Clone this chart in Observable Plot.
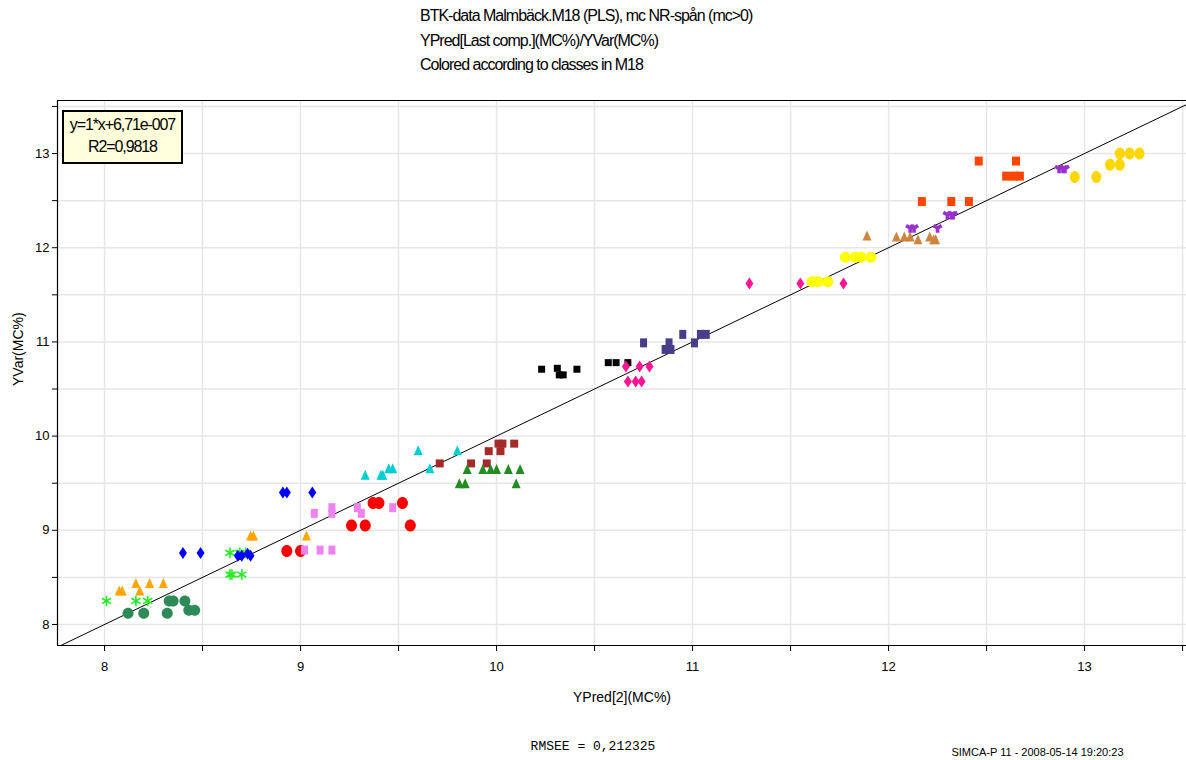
<!DOCTYPE html>
<html>
<head>
<meta charset="utf-8">
<script src="https://cdn.jsdelivr.net/npm/d3@7"></script>
<script src="https://cdn.jsdelivr.net/npm/@observablehq/plot@0.6"></script>
<style>
  html, body { margin: 0; padding: 0; background: #fff; }
  #wrap { position: relative; width: 1186px; height: 760px; overflow: hidden; font-family: "Liberation Sans", Arial, sans-serif; }
  #wrap svg { position: absolute; left: 0; top: 0; }
  .t { position: absolute; white-space: nowrap; color: #000; }
  .title { left: 420px; font-size: 16px; letter-spacing: -1.0px; }
  #box { position: absolute; left: 62px; top: 110px; width: 117px; height: 48px; background: #ffffdc; border: 2px solid #000; text-align: center; font-size: 16px; letter-spacing: -1.1px; line-height: 22px; padding-top: 2px; box-sizing: content-box; }
</style>
</head>
<body>
<div id="wrap">
  <div class="t title" style="top:7px">BTK-data Malmbäck.M18 (PLS), mc NR-spån (mc&gt;0)</div>
  <div class="t title" style="top:32px">YPred[Last comp.](MC%)/YVar(MC%)</div>
  <div class="t title" style="top:56px">Colored according to classes in M18</div>
</div>
<script>
// ---- data ----
const xTicks = [8, 8.5, 9, 9.5, 10, 10.5, 11, 11.5, 12, 12.5, 13, 13.5];
const yTicks = [8, 8.5, 9, 9.5, 10, 10.5, 11, 11.5, 12, 12.5, 13, 13.5];

const c01x = [8.12, 8.20, 8.32, 8.33, 8.35, 8.41, 8.43, 8.46];
const c01y = [8.12, 8.12, 8.12, 8.25, 8.25, 8.25, 8.15, 8.15];
const c02x = [8.075, 8.09, 8.16, 8.18, 8.23, 8.30, 8.745, 8.76, 9.03];
const c02y = [8.36, 8.36, 8.44, 8.36, 8.44, 8.44, 8.945, 8.945, 8.945];
const c03x = [8.01, 8.16, 8.22, 8.64, 8.69, 8.72, 8.64, 8.65, 8.70];
const c03y = [8.25, 8.25, 8.25, 8.76, 8.76, 8.76, 8.53, 8.53, 8.53];
const c04x = [8.40, 8.49, 8.68, 8.70, 8.73, 8.745, 8.91, 8.93, 9.06];
const c04y = [8.76, 8.76, 8.73, 8.73, 8.75, 8.73, 9.40, 9.40, 9.40];
const c05x = [8.93, 9.00, 9.26, 9.33, 9.56, 9.37, 9.40, 9.52];
const c05y = [8.78, 8.78, 9.05, 9.05, 9.05, 9.29, 9.29, 9.29];
const c06x = [9.02, 9.10, 9.16, 9.07, 9.16, 9.16, 9.29, 9.31, 9.47];
const c06y = [8.79, 8.79, 8.79, 9.18, 9.18, 9.24, 9.24, 9.18, 9.24];
const c07x = [9.33, 9.41, 9.42, 9.45, 9.47, 9.60, 9.66, 9.80];
const c07y = [9.59, 9.59, 9.59, 9.66, 9.66, 9.85, 9.66, 9.85];
const c08x = [9.71, 9.87, 9.95, 9.96, 10.02, 10.01, 10.03, 10.09];
const c08y = [9.71, 9.71, 9.71, 9.84, 9.84, 9.92, 9.92, 9.92];
const c09x = [9.81, 9.84, 9.85, 9.93, 9.97, 10.00, 10.06, 10.12, 10.10];
const c09y = [9.50, 9.50, 9.65, 9.65, 9.65, 9.65, 9.65, 9.65, 9.50];
const c10x = [10.23, 10.31, 10.32, 10.34, 10.41, 10.57, 10.61, 10.67];
const c10y = [10.71, 10.72, 10.65, 10.65, 10.71, 10.78, 10.78, 10.78];
const c11x = [10.66, 10.73, 10.78, 10.67, 10.71, 10.74, 11.29, 11.55, 11.77];
const c11y = [10.74, 10.74, 10.74, 10.58, 10.58, 10.58, 11.62, 11.62, 11.62];
const c12x = [10.75, 10.88, 10.86, 10.89, 10.95, 11.01, 11.04, 11.07];
const c12y = [10.99, 10.99, 10.92, 10.92, 11.08, 10.99, 11.08, 11.08];
const c13x = [11.61, 11.64, 11.69, 11.78, 11.83, 11.86, 11.91];
const c13y = [11.64, 11.64, 11.64, 11.90, 11.90, 11.90, 11.90];
const c14x = [11.89, 12.04, 12.08, 12.11, 12.15, 12.21, 12.23, 12.24];
const c14y = [12.13, 12.12, 12.12, 12.12, 12.09, 12.12, 12.09, 12.09];
const c15x = [12.11, 12.13, 12.25, 12.30, 12.32, 12.33, 12.87, 12.89, 12.90];
const c15y = [12.21, 12.21, 12.21, 12.35, 12.35, 12.35, 12.84, 12.84, 12.84];
const c16x = [12.17, 12.32, 12.41, 12.46, 12.60, 12.64, 12.67, 12.65];
const c16y = [12.49, 12.49, 12.49, 12.92, 12.76, 12.76, 12.76, 12.92];
const c17x = [12.95, 13.06, 13.13, 13.18, 13.18, 13.23, 13.28];
const c17y = [12.75, 12.75, 12.88, 12.88, 13.00, 13.00, 13.00];

const fitLine = [7.76, 13.52];

// ---- styling ----
const rectSym = (w, h) => ({draw(ctx) { ctx.rect(-w / 2, -h / 2, w, h); }});
const diamondSym = (w, h) => ({draw(ctx) { ctx.moveTo(0, -h / 2); ctx.lineTo(w / 2, 0); ctx.lineTo(0, h / 2); ctx.lineTo(-w / 2, 0); ctx.closePath(); }});
const triSym = (w, h) => ({draw(ctx) { ctx.moveTo(0, -h / 2); ctx.lineTo(w / 2, h / 2); ctx.lineTo(-w / 2, h / 2); ctx.closePath(); }});
const ellSym = (rx, ry) => ({draw(ctx) {
  const k = 0.5523, ox = rx * k, oy = ry * k;
  ctx.moveTo(rx, 0);
  ctx.bezierCurveTo(rx, oy, ox, ry, 0, ry);
  ctx.bezierCurveTo(-ox, ry, -rx, oy, -rx, 0);
  ctx.bezierCurveTo(-rx, -oy, -ox, -ry, 0, -ry);
  ctx.bezierCurveTo(ox, -ry, rx, -oy, rx, 0);
  ctx.closePath();
}});

const groups = [
  [c01x, c01y, "#2e8b57", ellSym(5.5, 5.5)],
  [c02x, c02y, "#ffa500", triSym(9, 10)],
  [c03x, c03y, "#22ee22", "asterisk"],
  [c04x, c04y, "#0000ff", diamondSym(8, 12)],
  [c05x, c05y, "#ff0000", ellSym(5.5, 6)],
  [c06x, c06y, "#ee82ee", rectSym(7, 9)],
  [c07x, c07y, "#00ced1", triSym(9, 10)],
  [c08x, c08y, "#a52a2a", rectSym(8, 8)],
  [c09x, c09y, "#228b22", triSym(9, 10)],
  [c10x, c10y, "#000000", rectSym(7, 7)],
  [c11x, c11y, "#ff1493", diamondSym(8, 12)],
  [c12x, c12y, "#483d8b", rectSym(7, 9)],
  [c13x, c13y, "#ffff00", ellSym(5.5, 5.5)],
  [c14x, c14y, "#cd853f", triSym(9, 10)],
  [c15x, c15y, "#9932cc", "wye"],
  [c16x, c16y, "#ff4500", rectSym(8, 9)],
  [c17x, c17y, "#ffd700", ellSym(5, 6)]
];

const xDom = [7.76, 13.52], yDom = [7.777, 13.563];

const dotMarks = groups.map(([xs, ys, color, sym]) => {
  const data = xs.map((x, i) => ({x, y: ys[i]}));
  if (sym === "asterisk") return Plot.dot(data, {x: "x", y: "y", symbol: "asterisk", r: 5, stroke: color, strokeWidth: 1.6, fill: "none"});
  if (sym === "wye") return Plot.dot(data, {x: "x", y: "y", symbol: "wye", r: 3.8, fill: color, stroke: "none"});
  return Plot.dot(data, {x: "x", y: "y", symbol: sym, r: 5, fill: color, stroke: "none"});
});

const fmt = d => Number.isInteger(d) ? String(d) : "";

const chart = Plot.plot({
  width: 1186,
  height: 760,
  marginTop: 100,
  marginLeft: 57,
  marginRight: 0,
  marginBottom: 115,
  x: {domain: xDom, label: null},
  y: {domain: yDom, label: null},
  style: {fontFamily: "Liberation Sans, Arial, sans-serif", fontSize: "13px", background: "transparent", color: "#000"},
  marks: [
    Plot.gridX(xTicks, {stroke: "#e6e6e6", strokeOpacity: 1, strokeWidth: 1.5}),
    Plot.gridY(yTicks, {stroke: "#e6e6e6", strokeOpacity: 1, strokeWidth: 1.5}),
    Plot.axisX(xTicks, {tickSize: 6, tickPadding: 10, tickFormat: fmt, label: null, fontSize: 13}),
    Plot.axisY(yTicks, {tickSize: 5, tickPadding: 3, tickFormat: fmt, label: null, fontSize: 13}),
    Plot.ruleX([xDom[0]], {stroke: "#000", strokeWidth: 1.2}),
    Plot.ruleY([yDom[0]], {stroke: "#000", strokeWidth: 1.2}),
    Plot.ruleY([yDom[1]], {stroke: "#000", strokeWidth: 1.2}),
    Plot.line(fitLine.map(v => ({x: v, y: v})), {x: "x", y: "y", stroke: "#000", strokeWidth: 1, clip: true}),
    ...dotMarks,
    Plot.text(["YPred[2](MC%)"], {frameAnchor: "bottom", dy: 56, fontSize: 14, fontFamily: "Liberation Sans, Arial", letterSpacing: "-0.9px"}),
    Plot.text(["YVar(MC%)"], {frameAnchor: "left", dx: -39, dy: 13, rotate: -90, fontSize: 14, fontFamily: "Liberation Sans, Arial", letterSpacing: "-0.9px"}),
    Plot.text(["RMSEE = 0,212325"], {frameAnchor: "bottom", dy: 104, dx: -29, fontSize: 13, fontFamily: "Liberation Mono, monospace", letterSpacing: "-0.4px"}),
    Plot.text(["SIMCA-P 11 - 2008-05-14 19:20:23"], {frameAnchor: "bottom-right", dy: 110, dx: -63, fontSize: 11, fontFamily: "Liberation Sans, Arial", letterSpacing: "-0.7px"})
  ]
});

const wrap = document.getElementById("wrap");
wrap.insertBefore(chart, wrap.firstChild);
const box = document.createElement("div");
box.id = "box";
box.innerHTML = "y=1*x+6,71e-007<br>R2=0,9818";
wrap.appendChild(box);
</script>
</body>
</html>
